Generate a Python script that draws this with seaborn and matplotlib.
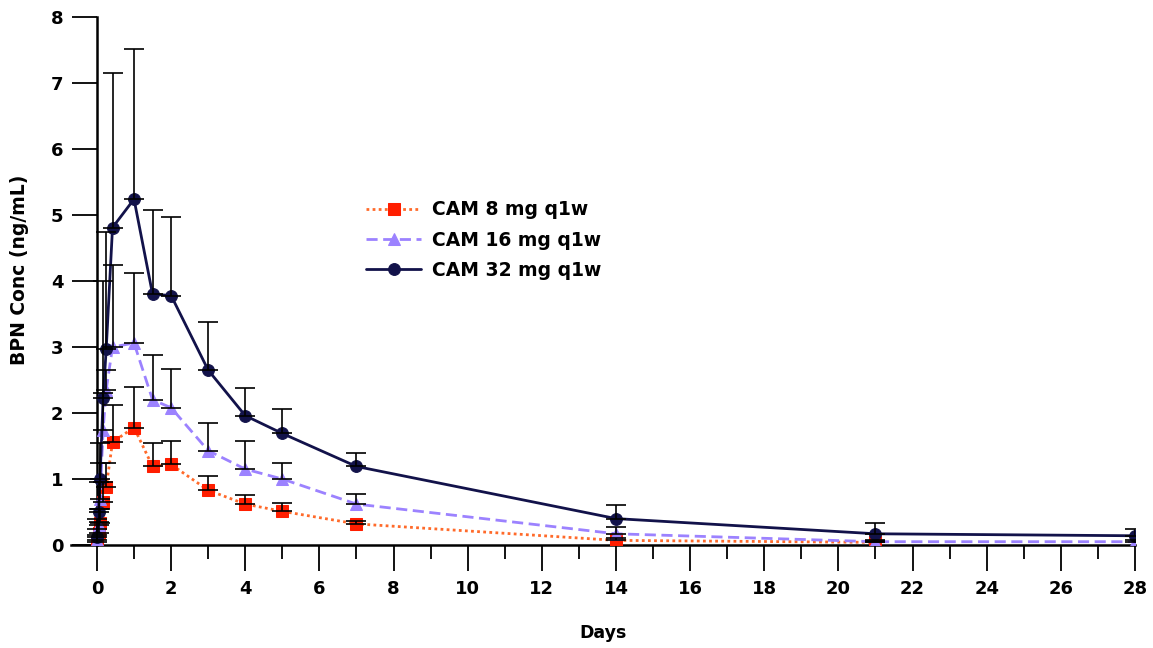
import matplotlib
matplotlib.use("Agg")
import matplotlib.pyplot as plt
import seaborn as sns
import numpy as np
from matplotlib.ticker import MultipleLocator

# ---- data ----
time_all = [0, 0.042, 0.083, 0.167, 0.25, 0.42, 1, 1.5, 2, 3, 4, 5, 7, 14, 21, 28]
time_8 = time_all[:15]

mean_8 = [0.05, 0.18, 0.33, 0.65, 0.88, 1.56, 1.78, 1.19, 1.22, 0.83, 0.62, 0.51, 0.32, 0.07, 0.04]
top_8 = [0.15, 0.35, 0.55, 0.95, 1.25, 2.12, 2.40, 1.55, 1.57, 1.04, 0.76, 0.63, 0.37, 0.10, 0.06]

mean_16 = [0.08, 0.30, 0.70, 1.75, 2.35, 3.00, 3.06, 2.20, 2.08, 1.43, 1.15, 1.00, 0.62, 0.17, 0.05, 0.05]
top_16 = [0.25, 0.55, 1.25, 2.30, 2.65, 4.25, 4.12, 2.88, 2.67, 1.85, 1.58, 1.25, 0.77, 0.28, 0.07, 0.07]

mean_32 = [0.12, 0.50, 1.00, 2.23, 2.97, 4.81, 5.24, 3.80, 3.78, 2.65, 1.96, 1.69, 1.19, 0.40, 0.17, 0.14]
top_32 = [0.40, 0.95, 1.55, 4.00, 4.75, 7.15, 7.52, 5.08, 4.97, 3.38, 2.38, 2.06, 1.40, 0.60, 0.33, 0.25]

labels = ["CAM 8 mg q1w", "CAM 16 mg q1w", "CAM 32 mg q1w"]
x_ticks = list(range(0, 29, 2))
y_ticks = list(range(0, 9))

# ---- style ----
sns.set_style("ticks")
plt.rcParams['font.family'] = ['DejaVu Sans']
plt.rcParams['font.weight'] = 'bold'
plt.rcParams['text.color'] = 'black'
plt.rcParams['axes.labelcolor'] = 'black'

fig = plt.figure(figsize=(11.53, 6.48), dpi=100)
ax = fig.add_axes([71 / 1153, 103 / 648, (1135 - 71) / 1153, (631 - 103) / 648])

series = [
    (time_8, mean_8, top_8, labels[0], "#FF6A2A", "#FF1E00", "s", (1, 1.2), 8),
    (time_all, mean_16, top_16, labels[1], "#9C82FF", "#9C82FF", "^", (4, 2), 8.5),
    (time_all, mean_32, top_32, labels[2], "#12124A", "#12124A", "o", None, 8.5),
]

for t, m, top, lab, lc, mc, mk, dash, ms in series:
    kw = dict(x=t, y=m, ax=ax, color=lc, marker=mk, markersize=ms,
              markerfacecolor=mc, markeredgecolor=mc, linewidth=2.0,
              label=lab, zorder=3)
    if dash is not None:
        kw['dashes'] = dash
    sns.lineplot(**kw)
    err_up = np.array(top) - np.array(m)
    ax.errorbar(t, m, yerr=[np.zeros(len(m)), err_up], fmt='none',
                ecolor='black', elinewidth=1.2, capsize=7, capthick=1.2, zorder=4)

ax.set_xlim(-0.7, 28.0)
ax.set_ylim(0, 8)
ax.spines['left'].set_position(('data', 0))
ax.spines['top'].set_visible(False)
ax.spines['right'].set_visible(False)
for s in ('left', 'bottom'):
    ax.spines[s].set_linewidth(1.8)
    ax.spines[s].set_color('black')

ax.set_xticks(x_ticks)
ax.xaxis.set_minor_locator(MultipleLocator(1))
ax.set_yticks(y_ticks)
ax.tick_params(axis='x', which='major', length=19, width=1.3, direction='out', labelsize=13, pad=6,
               colors='black', labelcolor='black')
ax.tick_params(axis='x', which='minor', length=10, width=1.3, direction='out', colors='black')
ax.tick_params(axis='y', which='major', length=18, width=1.3, direction='out', labelsize=13, pad=6,
               colors='black', labelcolor='black')
for lbl in ax.get_xticklabels() + ax.get_yticklabels():
    lbl.set_fontweight('bold')

ax.set_xlabel("Days", fontsize=12.5, fontweight='bold', labelpad=19, color='black')
ax.set_ylabel("BPN Conc (ng/mL)", fontsize=13.5, fontweight='bold', color='black')
ax.yaxis.set_label_coords((29 - 71) / 1064, (648 - 270 - 103) / 528)

leg = ax.legend(loc='upper left', bbox_to_anchor=(357 / 1153, 1 - 191 / 648),
                bbox_transform=fig.transFigure, frameon=False, borderpad=0,
                handlelength=2.9, handletextpad=0.6, labelspacing=0.6,
                prop={'weight': 'bold', 'size': 13.5})
for txt in leg.get_texts():
    txt.set_color('black')

fig.savefig("out.png", dpi=100)
